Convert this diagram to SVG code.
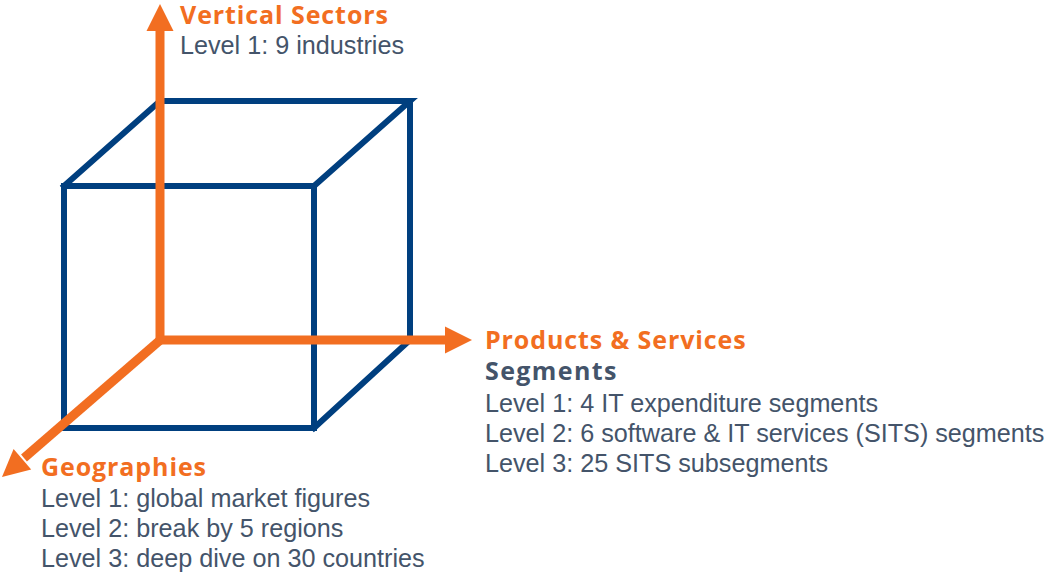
<svg xmlns="http://www.w3.org/2000/svg" width="1048" height="574" viewBox="0 0 1048 574">
<style>
.cube{fill:none;stroke:#003F7F;stroke-width:6;stroke-linejoin:miter;stroke-linecap:square}
.axis{fill:none;stroke:#F26E21;stroke-width:9}
.head{fill:#F26E21}
.title{font-family:"Open Sans","DejaVu Sans",sans-serif;font-weight:700;font-size:25px;letter-spacing:0.9px;fill:#F26E21}
.sub{font-family:"Open Sans","DejaVu Sans",sans-serif;font-weight:700;font-size:25px;letter-spacing:1.4px;fill:#44546A}
.body{font-family:"Liberation Sans",Arial,sans-serif;font-size:25.2px;fill:#44546A}
</style>
<rect width="1048" height="574" fill="#FFFFFF"/>
<g id="cube">
<rect class="cube" x="64" y="186" width="250" height="242"/>
<polyline class="cube" points="64,186 160,101 410,101 314,186"/>
<polyline class="cube" points="410,101 410,340 314,428"/>
</g>
<g id="connectors">
<line class="axis" x1="160" y1="344" x2="160" y2="28"/>
<polygon class="head" points="160,4 146.5,31 173.5,31"/>
<line class="axis" x1="156" y1="340" x2="448" y2="340"/>
<polygon class="head" points="472,340 445,326.5 445,353.5"/>
<line class="axis" x1="162" y1="338.5" x2="24" y2="458"/>
<polygon class="head" points="2,477 13.6,449 31.2,469.5"/>
</g>
<g id="vertical-sectors">
<text class="title" x="180" y="24">Vertical Sectors</text>
<text class="body" x="180" y="54">Level 1: 9 industries</text>
</g>
<g id="products-services">
<text class="title" x="485" y="349">Products &amp; Services</text>
<text class="sub" x="485" y="380">Segments</text>
<text class="body" x="485" y="412">Level 1: 4 IT expenditure segments</text>
<text class="body" x="485" y="442">Level 2: 6 software &amp; IT services (SITS) segments</text>
<text class="body" x="485" y="472">Level 3: 25 SITS subsegments</text>
</g>
<g id="geographies">
<text class="title" x="41" y="476">Geographies</text>
<text class="body" x="41" y="507">Level 1: global market figures</text>
<text class="body" x="41" y="537">Level 2: break by 5 regions</text>
<text class="body" x="41" y="567">Level 3: deep dive on 30 countries</text>
</g>
</svg>
